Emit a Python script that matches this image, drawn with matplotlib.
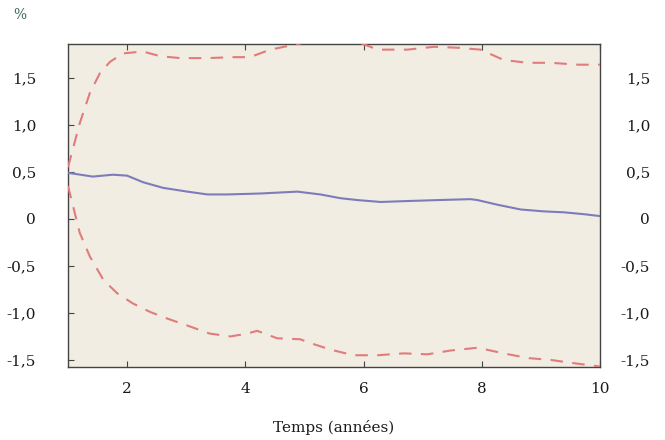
import matplotlib
matplotlib.use("Agg")
import matplotlib.pyplot as plt
import numpy as np

# Data
years_mid = [1.0, 1.42, 1.76, 2.0, 2.27, 2.61, 3.02, 3.36, 3.69, 4.25, 4.88, 5.27,
             5.61, 5.9, 6.29, 6.74, 7.25, 7.81, 7.93, 8.27, 8.66, 9.05, 9.39, 9.73, 10.0]
median = [0.49, 0.45, 0.47, 0.46, 0.39, 0.33, 0.29, 0.26, 0.26, 0.27, 0.29, 0.26,
          0.22, 0.20, 0.18, 0.19, 0.20, 0.21, 0.20, 0.15, 0.10, 0.08, 0.07, 0.05, 0.03]

years_up = [1.0, 1.2, 1.37, 1.54, 1.71, 1.93, 2.27, 2.56, 2.9, 3.35, 3.8, 4.08,
            4.42, 4.81, 5.1, 5.5, 5.95, 6.24, 6.74, 7.19, 7.6, 7.98, 8.37, 8.78,
            9.17, 9.63, 10.0]
upper = [0.55, 1.02, 1.34, 1.55, 1.67, 1.76, 1.78, 1.73, 1.71, 1.71, 1.72, 1.72,
         1.80, 1.85, 1.89, 1.90, 1.87, 1.80, 1.80, 1.83, 1.82, 1.80, 1.69, 1.66,
         1.66, 1.64, 1.64]

years_lo = [1.0, 1.2, 1.37, 1.6, 1.83, 2.1, 2.39, 2.68, 3.0, 3.4, 3.75, 4.03, 4.2,
            4.54, 4.93, 5.05, 5.44, 5.83, 6.24, 6.68, 7.08, 7.47, 7.93, 8.37, 8.78,
            9.17, 9.5, 10.0]
lower = [0.35, -0.15, -0.40, -0.65, -0.79, -0.90, -0.99, -1.06, -1.13, -1.22, -1.25,
         -1.22, -1.19, -1.27, -1.28, -1.31, -1.39, -1.45, -1.45, -1.43, -1.44, -1.40,
         -1.37, -1.43, -1.48, -1.50, -1.53, -1.57]

xticks = [2, 4, 6, 8, 10]
yticks = [-1.5, -1.0, -0.5, 0, 0.5, 1.0, 1.5]
ytick_labels = ["-1,5", "-1,0", "-0,5", "0", "0,5", "1,0", "1,5"]

FONT = "DejaVu Serif"
plt.rcParams["font.family"] = [FONT]
FS = 11

fig = plt.figure(figsize=(6.65, 4.4), dpi=100)
ax = fig.add_axes([68/665, 1-367/440, (600-68)/665, (367-44)/440])
ax.set_facecolor("#F2EDE3")

ax.plot(years_mid, median, color="#7C7CBA", lw=1.5, zorder=3)
ax.plot(years_up, upper, color="#E07C7C", lw=1.5, dashes=(6, 4.5), zorder=3)
ax.plot(years_lo, lower, color="#E07C7C", lw=1.5, dashes=(6, 4.5), zorder=3)

ax.set_xlim(1, 10)
ax.set_ylim(-1.575, 1.86)
ax.set_xticks(xticks)
ax.set_xticklabels([str(t) for t in xticks])
ax.set_yticks(yticks)
ax.set_yticklabels(ytick_labels)

for s in ax.spines.values():
    s.set_color("#444444")
    s.set_linewidth(1.0)

ax.tick_params(axis="both", direction="in", length=4, width=0.8, color="#444444",
               labelsize=FS, labelcolor="#1a1a1a")
ax.tick_params(axis="x", top=True, pad=11)
ax.tick_params(axis="y", right=True, pad=23)

ax2 = ax.twinx()
ax2.set_ylim(ax.get_ylim())
ax2.set_yticks(yticks)
ax2.set_yticklabels(ytick_labels)
ax2.tick_params(axis="y", direction="in", length=0, labelsize=FS, labelcolor="#1a1a1a", pad=36)
for lbl in ax2.get_yticklabels():
    lbl.set_horizontalalignment("right")
for s in ax2.spines.values():
    s.set_visible(False)

fig.text(334/665, 1-427/440, "Temps (années)", ha="center", va="center",
         fontsize=FS, color="#1a1a1a")
fig.text(13/665, 1-15/440, "%", ha="left", va="center", fontsize=10, color="#3E6B62")

fig.savefig("out.png", dpi=100, facecolor="white")
